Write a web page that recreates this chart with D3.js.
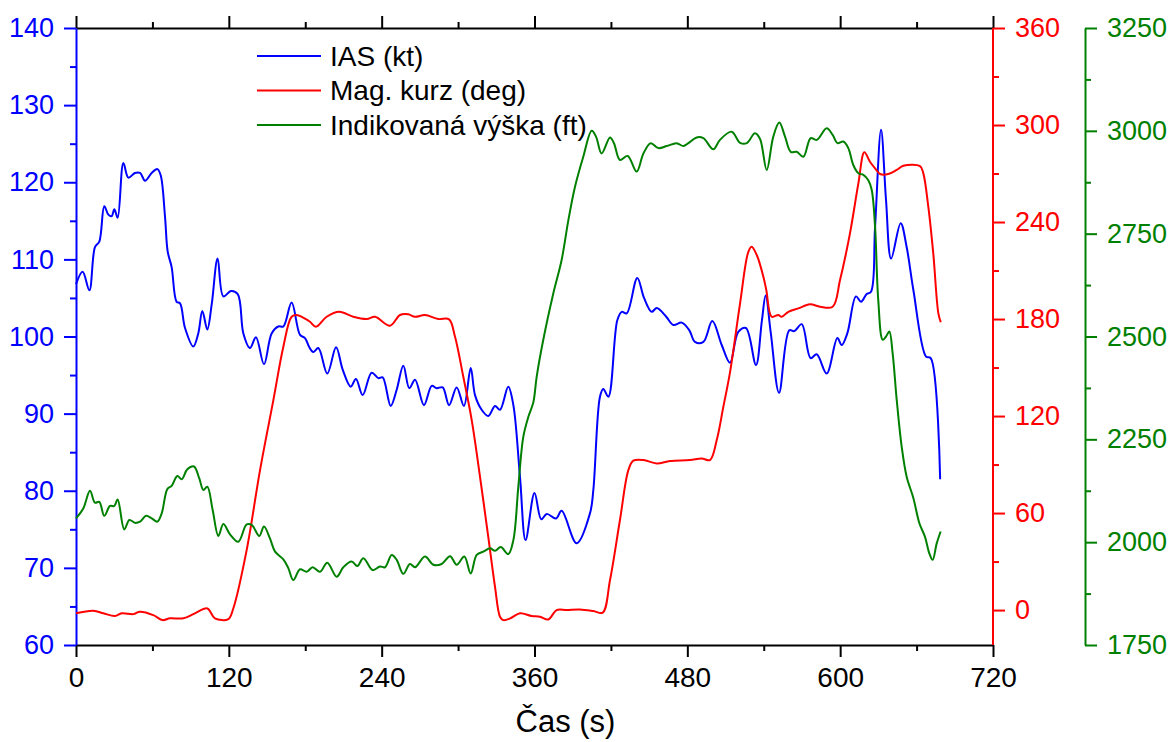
<!DOCTYPE html>
<html lang="cs">
<head>
  <meta charset="UTF-8">
  <script src="https://cdn.jsdelivr.net/npm/d3@7"></script>
  <style>
    body { margin: 0; background: #fff; }
    svg { font-family: "Liberation Sans", Arial, sans-serif; }
  </style>
</head>
<body>
  <div id="wrapper"></div>
  <script>
    // time (s), value pairs
    const iasData = [[0,106.8],[5.2,108.4],[10.5,106],[14.9,111.6],[18.3,112.3],[22.2,116.9],[25.4,115.8],[28,115.6],[30.1,116.5],[32.7,115.4],[37.2,122.5],[41.1,120.6],[46.3,121.2],[50.3,121.2],[54.2,120.2],[59.4,121.2],[63.9,121.7],[66.5,120.9],[69.9,115.5],[72,111],[75.1,109],[79,104.5],[81.7,104.3],[85.6,101.1],[92.1,98.7],[96,100.4],[99.2,103.3],[103.1,100.9],[106.5,104.1],[111.2,110.1],[115.7,105.2],[121.7,105.9],[127,105.5],[131.4,100.4],[136.6,98.5],[141.3,99.9],[147.6,96.4],[153.6,100.4],[158.9,101.3],[162.8,101.3],[169.3,104.4],[175.9,100.2],[179.8,99.8],[183.2,98.6],[186.3,98],[190.3,98.5],[197.3,95.2],[204.2,98.6],[209.4,95.7],[215.7,93.5],[219.8,94.5],[225.1,92.4],[232.1,95.3],[237.4,94.6],[240.8,94.7],[247.1,91],[251.8,93.1],[257,96.2],[261.7,93.3],[266.2,94.4],[273.2,91.1],[279.3,93.6],[283.2,93.3],[287.9,93.4],[292.9,91.1],[298.9,93.4],[304.6,91],[309.9,95.9],[313.3,92.4],[318.5,90.5],[323.7,89.7],[329,91],[332.9,90.5],[339.4,93.5],[343.4,91.1],[348.6,81.8],[353,73.6],[360,79.7],[365.3,76.3],[369.6,77],[376.9,76.4],[381.3,77.4],[393.1,73.2],[403.6,77.1],[406.2,80.1],[411.4,92.2],[414,93.2],[418,92.2],[425,102.1],[428.5,103.2],[432.4,103],[440.7,107.6],[446,105],[452,103.2],[456,103.7],[463.3,102.6],[469,101.5],[475.6,101.8],[481.6,100.8],[486,99.3],[492.6,99.3],[499.6,102],[507,98.9],[513.5,96.6],[520,100.6],[526,101.1],[533.9,96.3],[538.5,102],[541.5,105.3],[545.5,100.5],[552,92.7],[560,100.8],[564,100.7],[569.8,101.6],[576.8,97.2],[581.6,97.7],[589.4,95.2],[597.8,99.8],[601.2,98.9],[605.6,100.4],[612.4,105.2],[616.4,104.5],[620.8,105.5],[624.2,105.8],[627.4,114.2],[632.1,126.8],[636,117.7],[640,110.1],[647.5,114.7],[652.2,111.6],[657.5,106],[667.4,97.4],[671.1,97.2],[678.5,81.5]];

    const headingData = [[0,-2],[13.6,-0.4],[21.5,-2],[30.6,-3.7],[35.9,-2],[45,-2.5],[50.3,-1],[60.7,-3.1],[68,-6.2],[73.8,-5.1],[84.3,-5.1],[93.4,-2],[103.1,1],[109.1,-5.1],[119.6,-5.6],[123.5,1],[134,37.1],[144.5,86.6],[155,130],[162.8,162.9],[169.3,181.4],[173.3,182.5],[178,181],[183.7,178.3],[188.4,175.2],[196.8,181.4],[206.7,184.5],[217.7,181.4],[228.3,180],[234.8,181.4],[246.6,175.9],[254.4,182.5],[260.9,182.9],[266.2,181.4],[274,182.5],[284.5,180],[292.9,179.8],[297.6,169],[304.1,144.3],[310.7,117.5],[317.2,82.5],[323.7,45.3],[329,14.4],[332.9,-4.1],[335.5,-6.2],[341,-5.1],[348.6,-2],[357.8,-3.7],[364.3,-4.1],[370.8,-5.8],[377.4,0],[385.3,0],[395.7,0.4],[406.2,-0.6],[413.5,-1.6],[419.3,18.6],[427.1,55.7],[433.7,86.6],[437.6,92.4],[445.5,92.8],[456,90.7],[466.4,92.2],[482.1,92.8],[491.3,93.8],[497.8,92.8],[503.1,105.2],[508.3,125.8],[513.5,147],[521.4,189.7],[527.9,221.6],[530.5,224.7],[534.5,219.6],[539.7,206.2],[542,198],[546.2,181.4],[551.4,182.5],[554.1,181.4],[559.3,184.5],[567.1,186.6],[576.3,189.1],[584.2,187.6],[594.1,187.6],[599.9,204.1],[607.7,233],[614.3,263.9],[619,283.1],[623.4,277.3],[627.4,273.2],[631.3,269.7],[637.8,269.7],[644.4,272.2],[649.6,274.8],[662.7,274.6],[665.3,270.1],[669.2,249.5],[673.1,220.6],[677.1,183.5],[679,178]];

    const altitudeData = [[0,2058],[5.7,2082],[11,2125],[14.9,2096],[18.3,2098],[22.2,2064],[26.7,2088],[30.1,2088],[32.7,2104],[37.9,2031],[41.9,2054],[46.3,2047],[50.3,2050],[55,2064],[59.4,2058],[63.9,2050],[67.3,2070],[71.7,2129],[75.1,2137],[79.6,2161],[83,2153],[87.4,2177],[92.6,2184],[96.8,2155],[100,2127],[103.1,2135],[107.3,2078],[111.8,2015],[115.7,2044],[120.9,2019],[127.4,2001],[134,2043],[138,2042],[143.9,2015],[147.6,2038],[152.3,2009],[156.3,1977],[162.8,1958],[166.7,1937],[170.6,1908],[175.9,1934],[181.1,1928],[185.8,1939],[191.6,1928],[197.3,1950],[204.7,1916],[209.9,1939],[216.4,1953],[220.9,1942],[225.6,1961],[232.9,1932],[238.7,1941],[242.6,1939],[247.9,1969],[251.8,1957],[257,1923],[262.2,1947],[266.2,1939],[274,1965],[280.6,1945],[287.1,1947],[293.7,1966],[298.9,1945],[304.9,1965],[309.9,1924],[314.6,1969],[319.8,1977],[325.1,1985],[329,1979],[333.5,1988],[339.4,1971],[343.4,2005],[347.3,2135],[351.2,2256],[355.2,2305],[359.1,2340],[361.7,2402],[366.9,2492],[374.8,2605],[381.3,2686],[386.6,2783],[391.8,2864],[398.3,2937],[404.9,3000],[408.3,2986],[412.7,2945],[419.3,2984],[422.4,2970],[427.1,2929],[433.2,2939],[440.2,2901],[445.5,2945],[451.2,2970],[457.2,2958],[463.8,2963],[471.6,2970],[476.9,2963],[480.8,2970],[487.3,2984],[492.6,2982],[500.4,2955],[505.6,2978],[514.8,2998],[521.4,2971],[526.6,2970],[533.1,2994],[537.1,2980],[542.3,2905],[547.5,2986],[552.2,3020],[556.7,2986],[561.2,2949],[565.9,2949],[571.1,2937],[576.8,2982],[581.6,2978],[589.4,3006],[594.1,2990],[597.8,2970],[602.5,2974],[606.4,2958],[610.3,2917],[614.3,2897],[618.2,2893],[622.1,2880],[624.8,2856],[627.4,2767],[629.9,2589],[633.4,2492],[636,2500],[638.6,2512],[641.2,2459],[644.4,2346],[648.3,2232],[652.2,2159],[657.5,2107],[662.2,2046],[666.6,2013],[670,1973],[672.6,1957],[675.8,1997],[678.9,2026]];

    const seriesNames = ["IAS (kt)", "Mag. kurz (deg)", "Indikovaná výška (ft)"];
    const xTicks = [0, 120, 240, 360, 480, 600, 720];
    const iasTicks = [60, 70, 80, 90, 100, 110, 120, 130, 140];
    const headingTicks = [0, 60, 120, 180, 240, 300, 360];
    const altitudeTicks = [1750, 2000, 2250, 2500, 2750, 3000, 3250];

    const blue = "#0000ff";
    const red = "#ff0000";
    const green = "#008000";

    //#region Dimensions
    let dimensions = {
      width: 1175,
      height: 742,
      margin: { top: 28, right: 182, bottom: 97, left: 76 },
    };
    dimensions.boundedWidth = dimensions.width - dimensions.margin.left - dimensions.margin.right;
    dimensions.boundedHeight = dimensions.height - dimensions.margin.top - dimensions.margin.bottom;
    //#endregion

    const svg = d3.select("#wrapper")
      .append("svg")
      .attr("width", dimensions.width)
      .attr("height", dimensions.height);

    const bounds = svg.append("g")
      .attr("transform", `translate(${dimensions.margin.left},${dimensions.margin.top})`);

    //#region Scales
    const xScale = d3.scaleLinear()
      .domain([0, 720])
      .range([0, dimensions.boundedWidth]);

    const iasScale = d3.scaleLinear()
      .domain([60, 140])
      .range([dimensions.boundedHeight, 0]);

    const headingScale = d3.scaleLinear()
      .domain([-21.6, 360])
      .range([dimensions.boundedHeight, 0]);

    const altitudeScale = d3.scaleLinear()
      .domain([1750, 3250])
      .range([dimensions.boundedHeight, 0]);
    //#endregion

    //#region Axes
    function minorTicks(major) {
      const step = major[1] - major[0];
      return major.slice(0, -1).map(d => d + step / 2);
    }

    function styleAxis(g, color, fontSize) {
      g.select(".domain").attr("stroke", color).attr("stroke-width", 2);
      g.selectAll(".tick line").attr("stroke", color).attr("stroke-width", 2);
      g.selectAll(".tick text")
        .attr("fill", color)
        .style("font-size", fontSize)
        .style("font-family", "'Liberation Sans', Arial, sans-serif");
    }

    function drawAxis(axisFn, scale, ticks, transform, color, labels, fontSize) {
      const minor = bounds.append("g")
        .attr("transform", transform)
        .call(axisFn(scale).tickValues(minorTicks(ticks)).tickSize(6).tickFormat(""));
      minor.select(".domain").remove();
      minor.selectAll(".tick line").attr("stroke", color).attr("stroke-width", 2);

      const major = bounds.append("g")
        .attr("transform", transform)
        .call(axisFn(scale).tickValues(ticks).tickSize(12).tickSizeOuter(0).tickPadding(10)
          .tickFormat(labels ? d3.format("d") : ""));
      styleAxis(major, color, fontSize);
      return major;
    }

    drawAxis(d3.axisBottom, xScale, xTicks, `translate(0,${dimensions.boundedHeight})`, "#000", true, "28px");
    drawAxis(d3.axisTop, xScale, xTicks, "translate(0,0)", "#000", false, "28px");
    drawAxis(d3.axisLeft, iasScale, iasTicks, "translate(0,0)", blue, true, "27px");
    const headingAxis = drawAxis(d3.axisRight, headingScale, headingTicks,
      `translate(${dimensions.boundedWidth},0)`, red, true, "27px");
    headingAxis.select(".domain").attr("d", `M0,0V${dimensions.boundedHeight}`);
    const altitudeAxis = drawAxis(d3.axisRight, altitudeScale, altitudeTicks,
      `translate(${dimensions.boundedWidth + 92},0)`, green, true, "27px");

    bounds.append("text")
      .attr("x", dimensions.boundedWidth / 2 + 31)
      .attr("y", dimensions.boundedHeight + 87)
      .attr("text-anchor", "middle")
      .attr("fill", "#000")
      .style("font-size", "31px")
      .text("Čas (s)");
    //#endregion

    //#region Lines
    const xAccessor = d => xScale(d[0]);

    const lines = [
      { data: iasData, scale: iasScale, color: blue },
      { data: headingData, scale: headingScale, color: red },
      { data: altitudeData, scale: altitudeScale, color: green },
    ];

    lines.forEach(s => {
      const lineGenerator = d3.line()
        .x(xAccessor)
        .y(d => s.scale(d[1]))
        .curve(d3.curveCatmullRom.alpha(0.5));

      bounds.append("path")
        .attr("d", lineGenerator(s.data))
        .attr("fill", "none")
        .attr("stroke", s.color)
        .attr("stroke-width", 2)
        .attr("stroke-linejoin", "round");
    });
    //#endregion

    //#region Legend
    const legend = bounds.append("g")
      .attr("transform", "translate(181,28)");

    seriesNames.forEach((name, i) => {
      const row = legend.append("g")
        .attr("transform", `translate(0,${i * 34.5})`);
      row.append("line")
        .attr("x1", 0)
        .attr("x2", 64)
        .attr("stroke", lines[i].color)
        .attr("stroke-width", 2);
      row.append("text")
        .attr("x", 73)
        .attr("y", 9.5)
        .attr("fill", "#000")
        .style("font-size", "28px")
        .text(name);
    });
    //#endregion
  </script>
</body>
</html>
